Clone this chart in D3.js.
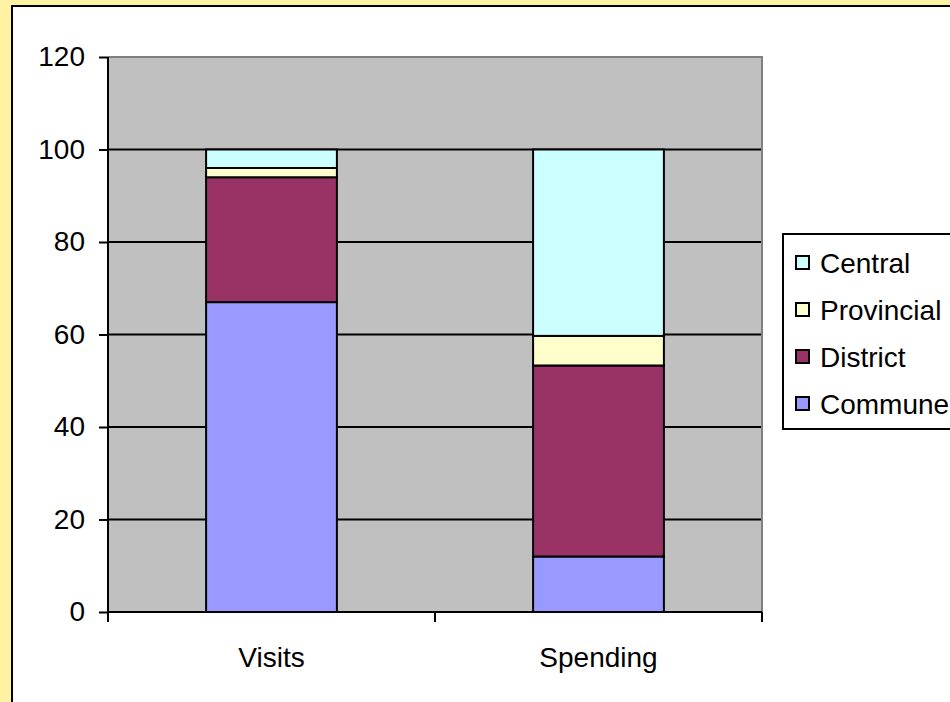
<!DOCTYPE html>
<html>
<head>
<meta charset="utf-8">
<script src="https://cdn.jsdelivr.net/npm/d3@7/dist/d3.min.js"></script>
<style>
  html, body { margin: 0; padding: 0; background: #FFF2A2; }
  svg { display: block; font-family: "Liberation Sans", Arial, sans-serif; }
</style>
</head>
<body>
<svg id="chart" width="950" height="702"></svg>
<script>
// Share of visits and spending by level of health facility (%)
const categories = ["Visits", "Spending"];
const seriesNames = ["Commune", "District", "Provincial", "Central"];
const commune    = [67, 12];
const district   = [27, 41.3];
const provincial = [2, 6.4];
const central    = [4, 40.3];
const yTicks = [0, 20, 40, 60, 80, 100, 120];
const legendOrder = ["Central", "Provincial", "District", "Commune"];

const colors = {
  Commune: "#9999FF",
  District: "#993366",
  Provincial: "#FFFFCC",
  Central: "#CCFFFF"
};

const rows = categories.map((c, i) => ({
  category: c,
  Commune: commune[i],
  District: district[i],
  Provincial: provincial[i],
  Central: central[i]
}));

const svg = d3.select("#chart");
const W = 950, H = 702;
const FONT = 28;

// outer frame: yellow margin around a white panel with a black edge
svg.append("rect").attr("x", 0).attr("y", 0).attr("width", W).attr("height", H)
  .attr("fill", "#FFF2A2");
svg.append("rect").attr("x", 12).attr("y", 6).attr("width", W + 20).attr("height", H + 20)
  .attr("fill", "#FFFFFF").attr("stroke", "#000").attr("stroke-width", 2);

const plot = { left: 108, top: 57, right: 762, bottom: 612 };

const x = d3.scaleBand().domain(categories).range([plot.left, plot.right]).padding(0);
const y = d3.scaleLinear().domain([0, 120]).range([plot.bottom, plot.top]);

// plot area background
svg.append("rect")
  .attr("x", plot.left).attr("y", plot.top)
  .attr("width", plot.right - plot.left).attr("height", plot.bottom - plot.top)
  .attr("fill", "#C0C0C0");

// horizontal gridlines
svg.append("g").selectAll("line")
  .data(yTicks.filter(t => t > 0 && t < 120))
  .join("line")
  .attr("x1", plot.left).attr("x2", plot.right)
  .attr("y1", d => y(d)).attr("y2", d => y(d))
  .attr("stroke", "#000").attr("stroke-width", 2);

// plot border top & right (gray)
svg.append("path")
  .attr("d", `M${plot.left},${plot.top}H${plot.right}V${plot.bottom}`)
  .attr("fill", "none").attr("stroke", "#808080").attr("stroke-width", 2);

// stacked bars
const stack = d3.stack().keys(seriesNames);
const stacked = stack(rows);
const barW = x.bandwidth() * 0.4;

svg.append("g").selectAll("g")
  .data(stacked)
  .join("g")
  .attr("fill", d => colors[d.key])
  .selectAll("rect")
  .data(d => d)
  .join("rect")
  .attr("x", d => x(d.data.category) + (x.bandwidth() - barW) / 2)
  .attr("y", d => y(d[1]))
  .attr("width", barW)
  .attr("height", d => y(d[0]) - y(d[1]))
  .attr("stroke", "#000").attr("stroke-width", 2);

// y axis
const yAxis = d3.axisLeft(y).tickValues(yTicks).tickSize(9).tickPadding(14);
const gy = svg.append("g").attr("transform", `translate(${plot.left},0)`).call(yAxis);
gy.select(".domain").attr("d", `M0,${plot.top}V${plot.bottom + 10}`)
  .attr("stroke", "#000").attr("stroke-width", 2);
gy.selectAll(".tick line").attr("stroke", "#000").attr("stroke-width", 2);
gy.selectAll(".tick text").attr("font-size", FONT).attr("fill", "#000")
  .attr("font-family", "Liberation Sans, Arial, sans-serif");

// x axis: ticks at category boundaries
const gx = svg.append("g").attr("transform", `translate(0,${plot.bottom})`);
gx.append("line").attr("x1", plot.left).attr("x2", plot.right)
  .attr("stroke", "#000").attr("stroke-width", 2);
const bounds = [plot.left].concat(categories.map(c => x(c) + x.bandwidth()));
gx.selectAll(".b").data(bounds).join("line")
  .attr("x1", d => d).attr("x2", d => d).attr("y1", 0).attr("y2", 10)
  .attr("stroke", "#000").attr("stroke-width", 2);
gx.selectAll("text").data(categories).join("text")
  .attr("x", d => x(d) + x.bandwidth() / 2)
  .attr("y", 55)
  .attr("text-anchor", "middle")
  .attr("font-size", FONT)
  .attr("fill", "#000")
  .text(d => d);

// legend
const legend = svg.append("g");
legend.append("rect").attr("x", 783).attr("y", 234).attr("width", 200).attr("height", 195)
  .attr("fill", "#FFFFFF").attr("stroke", "#000").attr("stroke-width", 2);
const items = legend.selectAll("g.item").data(legendOrder).join("g")
  .attr("transform", (d, i) => `translate(0,${262.5 + i * 47})`);
items.append("rect")
  .attr("x", 796).attr("y", -6.5).attr("width", 13).attr("height", 13)
  .attr("fill", d => colors[d]).attr("stroke", "#000").attr("stroke-width", 2);
items.append("text")
  .attr("x", 820).attr("y", 0).attr("dy", "0.36em")
  .attr("font-size", FONT).attr("fill", "#000")
  .text(d => d);
</script>
</body>
</html>
